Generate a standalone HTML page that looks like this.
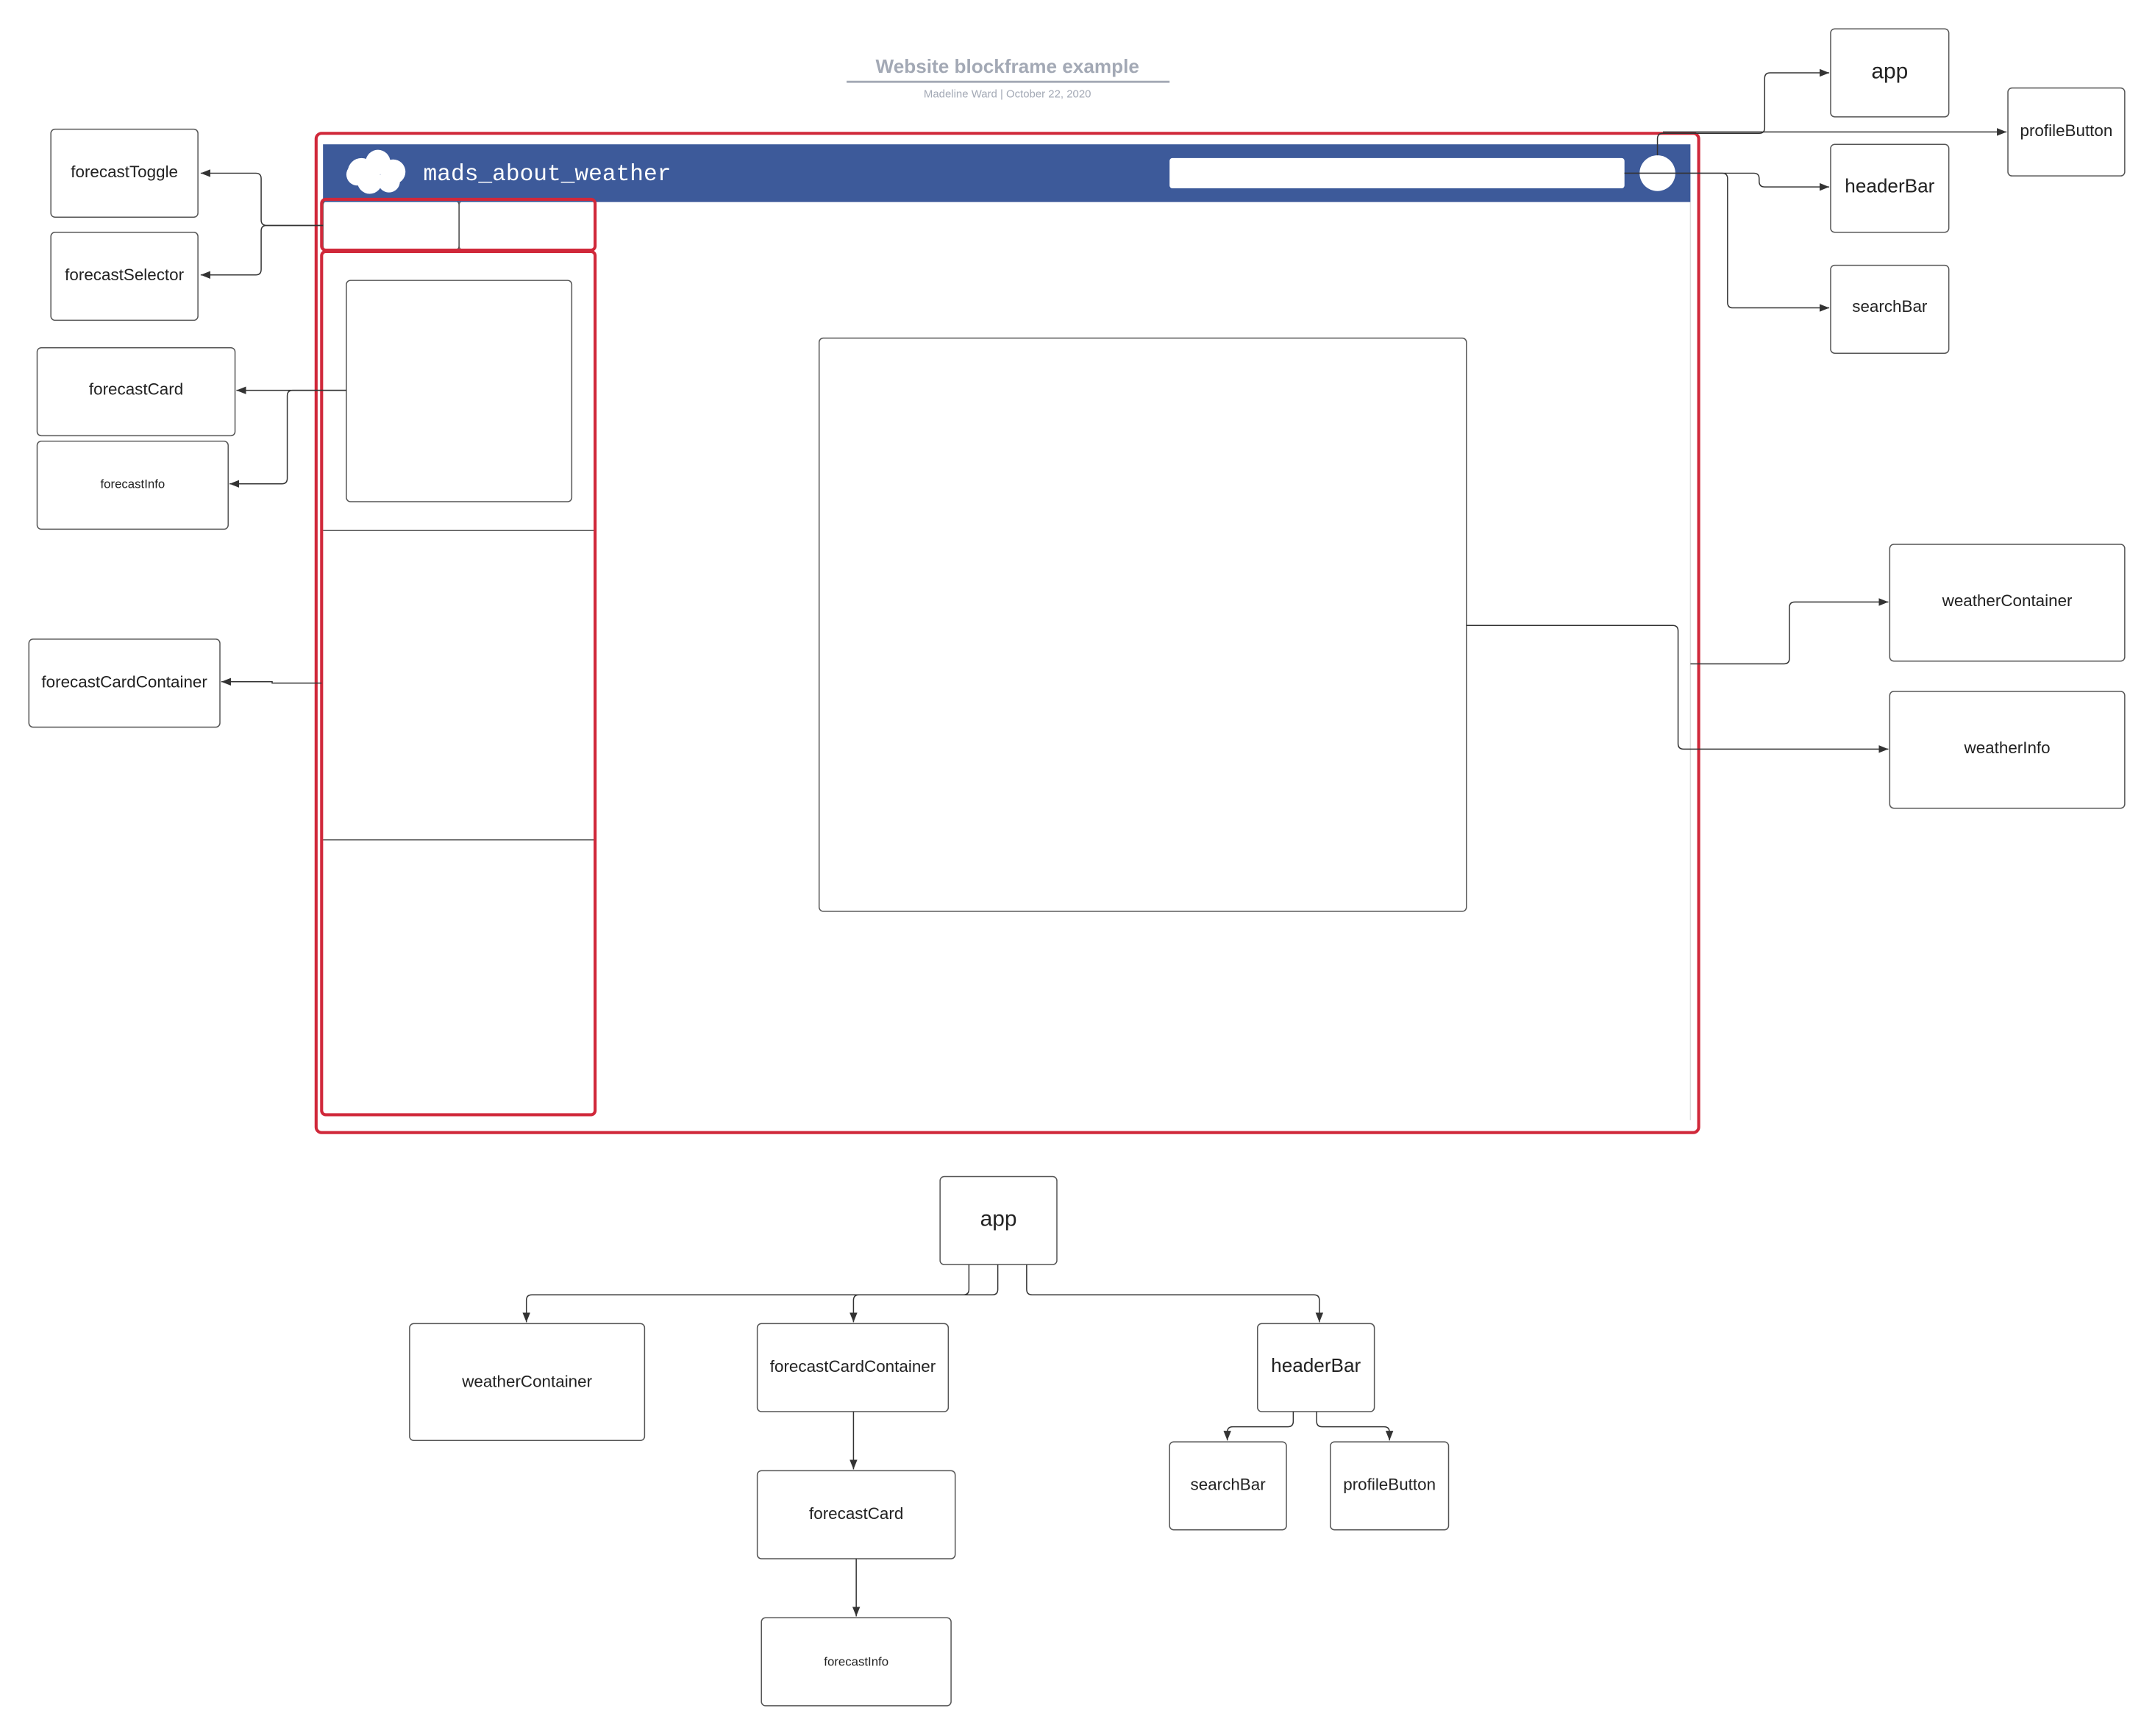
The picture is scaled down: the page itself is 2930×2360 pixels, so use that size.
<!DOCTYPE html>
<html><head><meta charset="utf-8"><style>html,body{margin:0;padding:0;background:#fff}svg{display:block}</style></head>
<body>
<svg xmlns="http://www.w3.org/2000/svg" width="2930" height="2360" viewBox="0 0 1568 1263" font-family="Liberation Sans, sans-serif">
<defs><marker id="a" viewBox="0 0 10 10" refX="10" refY="5" markerWidth="7" markerHeight="7" orient="auto" markerUnits="userSpaceOnUse"><path d="M0,1 L10,5 L0,9z" fill="#333"/></marker></defs>
<rect width="1568" height="1263" fill="#fff"/>
<text x="733" y="53" text-anchor="middle" font-size="14" font-weight="bold" fill="#a3a9b5">Website blockframe example</text>
<line x1="616" y1="59.5" x2="851" y2="59.5" stroke="#a3a9b5" stroke-width="1.5"/>
<text x="733" y="71" text-anchor="middle" font-size="8" fill="#a3a9b5">Madeline Ward  |  October 22, 2020</text>

<g fill="none" stroke="#555" stroke-width="0.8">
<line x1="1230" y1="147" x2="1230" y2="815" stroke="#ddd"/>
<rect x="596" y="246" width="471" height="417" rx="3"/>
<rect x="252" y="204" width="164" height="161" rx="3"/>
<rect x="235" y="146" width="99" height="36" rx="3"/>
<rect x="334" y="146" width="99" height="36" rx="3"/>
<line x1="235" y1="386" x2="433" y2="386"/>
<line x1="235" y1="611" x2="433" y2="611"/>
</g>
<rect x="235" y="105" width="995" height="42" fill="#3d5a9a"/>
<g fill="#fff"><circle cx="263" cy="125" r="10"/><circle cx="275" cy="118" r="9"/><circle cx="286" cy="125" r="9"/><circle cx="269" cy="132" r="9"/><circle cx="283" cy="132" r="8"/><circle cx="260" cy="127" r="8"/></g>
<text x="308" y="131" font-family="Liberation Mono, monospace" font-size="16.7" fill="#fff">mads_about_weather</text>
<rect x="851" y="115" width="331" height="22" rx="2" fill="#fff"/>
<ellipse cx="1206" cy="126" rx="13" ry="13" fill="#fff"/>
<g fill="none" stroke="#d0283a" stroke-width="2.2">
<rect x="230" y="97" width="1006" height="727" rx="4"/>
<rect x="234" y="145" width="199" height="37" rx="3"/>
<rect x="234" y="183" width="199" height="628" rx="3"/>
</g>

<g fill="none" stroke="#555" stroke-width="0.8">
<rect x="37" y="94" width="107" height="64" rx="3"/>
<rect x="37" y="169" width="107" height="64" rx="3"/>
<rect x="27" y="253" width="144" height="64" rx="3"/>
<rect x="27" y="321" width="139" height="64" rx="3"/>
<rect x="21" y="465" width="139" height="64" rx="3"/>
<rect x="1332" y="21" width="86" height="64" rx="3"/>
<rect x="1461" y="64" width="85" height="64" rx="3"/>
<rect x="1332" y="105" width="86" height="64" rx="3"/>
<rect x="1332" y="193" width="86" height="64" rx="3"/>
<rect x="1375" y="396" width="171" height="85" rx="3"/>
<rect x="1375" y="503" width="171" height="85" rx="3"/>
<rect x="684" y="856" width="85" height="64" rx="3"/>
<rect x="298" y="963" width="171" height="85" rx="3"/>
<rect x="551" y="963" width="139" height="64" rx="3"/>
<rect x="915" y="963" width="85" height="64" rx="3"/>
<rect x="551" y="1070" width="144" height="64" rx="3"/>
<rect x="554" y="1177" width="138" height="64" rx="3"/>
<rect x="851" y="1049" width="85" height="64" rx="3"/>
<rect x="968" y="1049" width="86" height="64" rx="3"/>
</g>

<g fill="none" stroke="#333" stroke-width="0.8" marker-end="url(#a)">
<path d="M235,164 H194 Q190,164 190,160 V130 Q190,126 186,126 H146"/>
<path d="M235,164 H194 Q190,164 190,168 V196 Q190,200 186,200 H146"/>
<path d="M252,284 H172"/>
<path d="M252,284 H213 Q209,284 209,288 V348 Q209,352 205,352 H167"/>
<path d="M234,497 H198 V496 H161"/>
<path d="M1067,455 H1217 Q1221,455 1221,459 V541 Q1221,545 1225,545 H1374"/>
<path d="M1230,483 H1298 Q1302,483 1302,479 V442 Q1302,438 1306,438 H1374"/>
<path d="M1206,113 V101 Q1206,97 1210,97 H1280 Q1284,97 1284,93 V57 Q1284,53 1288,53 H1331"/>
<path d="M1210,96 H1460"/>
<path d="M1182,126 H1276 Q1280,126 1280,130 V132 Q1280,136 1284,136 H1331"/>
<path d="M1182,126 H1253 Q1257,126 1257,130 V220 Q1257,224 1261,224 H1331"/>
<path d="M705,920 V938 Q705,942 701,942 H387 Q383,942 383,946 V962"/>
<path d="M726,920 V938 Q726,942 722,942 H625 Q621,942 621,946 V962"/>
<path d="M747,920 V938 Q747,942 751,942 H956 Q960,942 960,946 V962"/>
<path d="M941,1027 V1034 Q941,1038 937,1038 H897 Q893,1038 893,1042 V1048"/>
<path d="M958,1027 V1034 Q958,1038 962,1038 H1007 Q1011,1038 1011,1042 V1048"/>
<path d="M621,1027 V1069"/>
<path d="M623,1134 V1176"/>
</g>

<g fill="#222" font-size="12" text-anchor="middle">
<text x="90.5" y="129">forecastToggle</text>
<text x="90.5" y="204">forecastSelector</text>
<text x="99" y="287">forecastCard</text>
<text x="96.5" y="355" font-size="9">forecastInfo</text>
<text x="90.5" y="500">forecastCardContainer</text>
<text x="1375" y="57" font-size="16">app</text>
<text x="1503.5" y="99">profileButton</text>
<text x="1375" y="140" font-size="14">headerBar</text>
<text x="1375" y="227">searchBar</text>
<text x="1460.5" y="441">weatherContainer</text>
<text x="1460.5" y="548">weatherInfo</text>
<text x="726.5" y="892" font-size="16">app</text>
<text x="383.5" y="1009">weatherContainer</text>
<text x="620.5" y="998">forecastCardContainer</text>
<text x="957.5" y="998" font-size="14">headerBar</text>
<text x="623" y="1105">forecastCard</text>
<text x="623" y="1212" font-size="9">forecastInfo</text>
<text x="893.5" y="1084">searchBar</text>
<text x="1011" y="1084">profileButton</text>
</g>
</svg>
</body></html>
